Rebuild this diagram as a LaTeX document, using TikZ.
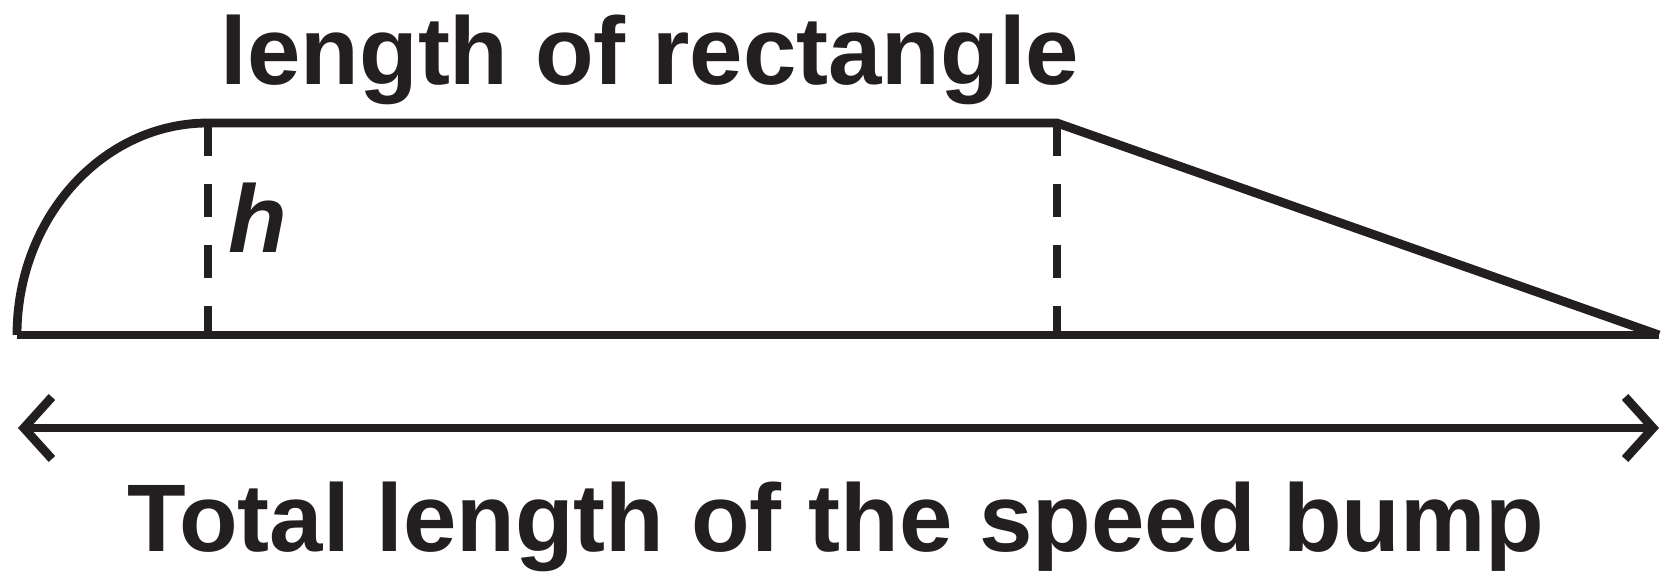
\documentclass[tikz,border=0pt]{standalone}
\usepackage{fontspec}
\setmainfont{Liberation Sans}
\usetikzlibrary{arrows.meta}
\definecolor{ink}{RGB}{35,31,32}

\begin{document}
\begin{tikzpicture}[x=0.5pt,y=-0.5pt,line width=4.4pt,draw=ink,
  txt/.style={font=\fontsize{48}{50}\selectfont\bfseries, text=ink, anchor=base, inner sep=0pt},
  barb/.tip={Straight Barb[length=14pt,width=31pt]}]
\useasboundingbox (0,0) rectangle (1669,576);
\coordinate (B0) at (17,335);
\coordinate (B1) at (208,335);
\coordinate (B2) at (1057,335);
\coordinate (B3) at (1659,335);
\coordinate (T1) at (208,123);
\coordinate (T2) at (1057,123);
\coordinate (L) at (18,428);
\coordinate (R) at (1659,428);
\node[txt] (top) at (650,85) {length of rectangle};
\node[txt] (h) at (258,253) {\itshape h};
\node[txt] (total) at (836,551) {Total length of the speed bump};
% bump outline
\draw[line join=miter] (B0) arc[start angle=180, end angle=270, x radius=191, y radius=212]
  -- (T2) -- (B3);
\draw (B0) -- (B3);
\draw[dash pattern=on 16.5pt off 14pt] (T1) -- (B1);
\draw[dash pattern=on 16.5pt off 14pt] (T2) -- (B2);
\draw[barb-barb] (L) -- (R);
\end{tikzpicture}
\end{document}
